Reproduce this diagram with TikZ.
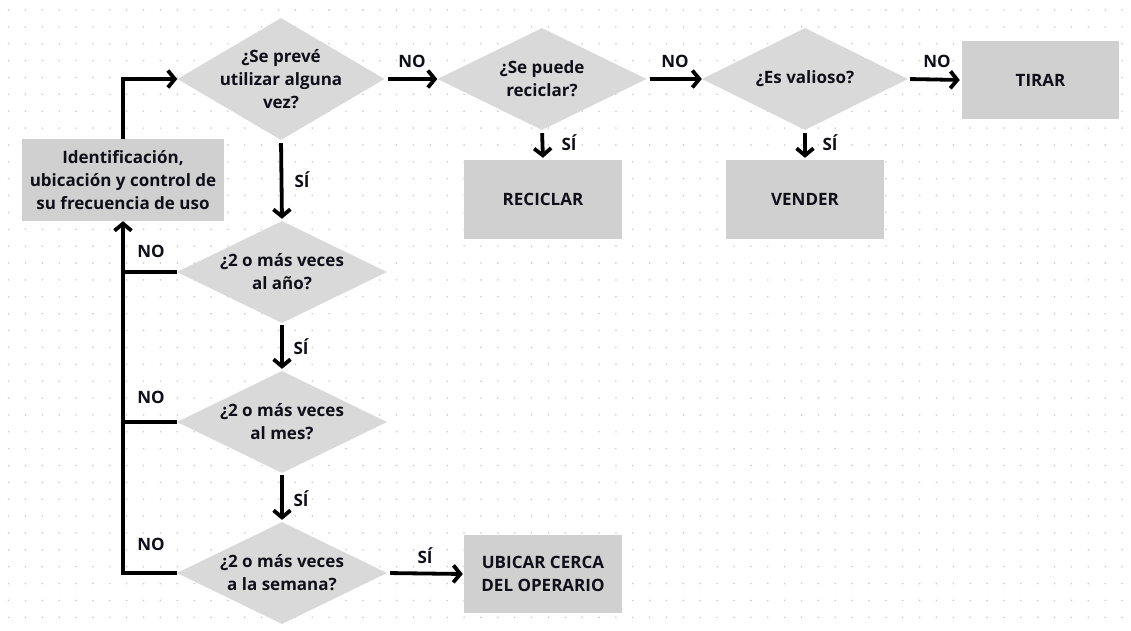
\documentclass[tikz,border=0pt]{standalone}
\usepackage{fontspec}
\setmainfont{Open Sans}
\usetikzlibrary{shapes.geometric,arrows.meta}
\definecolor{ink}{RGB}{15,15,25}
\definecolor{dotgrey}{RGB}{200,204,216}
\definecolor{diafill}{RGB}{217,217,217}
\definecolor{boxfill}{RGB}{208,208,208}
\begin{document}
\begin{tikzpicture}[x=1pt,y=-1pt,
  txt/.style={font=\fontsize{17}{23}\selectfont\bfseries, text=ink, align=center, inner sep=0pt},
  decision/.style={diamond, fill=diafill, draw=none, inner sep=0pt, minimum width=#1, minimum height=102pt},
  action/.style={rectangle, fill=boxfill, draw=none, inner sep=0pt, minimum width=158pt, minimum height=79pt,
                 font=\fontsize{17}{23}\selectfont\bfseries, text=ink, align=center},
  wire/.style={line width=3.8pt, draw=black},
  flow/.style={wire, -{Straight Barb[length=7pt,width=17pt]}},
  answer/.style={font=\fontsize{17}{23}\selectfont\bfseries, text=ink, inner sep=0pt}
]
% canvas and dotted grid
\fill[white] (0,0) rectangle (1131,630);
\useasboundingbox (0,0) rectangle (1131,630);
\foreach \i in {0,...,66}
  \foreach \j in {0,...,36}
    \fill[dotgrey] (8.6+\i*16.87, 10+\j*16.87) circle (0.9);

% decisions
\node[decision=207pt, minimum height=122pt] (d1) at (281,79) {};
\node[txt] (t1) at (d1.center) {¿Se prevé\\utilizar alguna\\vez?};
\node[decision=209pt] (d2) at (542,79) {};
\node[txt] (t2) at (d2.center) {¿Se puede\\reciclar?};
\node[decision=206pt] (d3) at (805,79) {};
\node[txt] (t3) at (d3.center) {¿Es valioso?};
\node[decision=210pt] (d4) at (282,272) {};
\node[txt] (t4) at (d4.center) {¿2 o más veces\\al año?};
\node[decision=210pt] (d5) at (282,422) {};
\node[txt] (t5) at (d5.center) {¿2 o más veces\\al mes?};
\node[decision=210pt] (d6) at (282,573) {};
\node[txt] (t6) at (d6.center) {¿2 o más veces\\a la semana?};

% actions
\node[action, minimum width=202pt, minimum height=82pt] (ident) at (123,180)
  {Identificación,\\ubicación y control de\\su frecuencia de uso};
\node[action, minimum width=157pt, minimum height=78pt] (tirar) at (1040.5,80) {TIRAR};
\node[action] (recic) at (543,199.5) {RECICLAR};
\node[action] (vender) at (805,199.5) {VENDER};
\node[action, minimum height=78pt] (ubicar) at (543,574) {UBICAR CERCA\\DEL OPERARIO};

% main flow
\draw[flow] (ident.north) |- (d1.west);
\draw[flow, shorten <=3pt] (d1.east) -- (d2.west);
\draw[flow, shorten <=3pt] (d2.east) -- (d3.west);
\draw[flow, shorten <=2pt, shorten >=2pt] (d3.east) -- (tirar.west);
\draw[flow, shorten <=3pt, shorten >=2pt] (d2.south) -- (recic.north);
\draw[flow, shorten <=3pt, shorten >=2pt] (d3.south) -- (vender.north);
\draw[flow, shorten <=3pt, shorten >=2pt] (d1.south) -- (d4.north);
\draw[flow, shorten <=2pt, shorten >=2pt] (d4.south) -- (d5.north);
\draw[flow, shorten <=2pt, shorten >=2pt] (d5.south) -- (d6.north);
\draw[flow, shorten <=3pt, shorten >=1pt] (d6.east) -- (ubicar.west);

% return branch
\draw[flow] (d6.west) -| (ident.south);
\draw[wire] (d4.west) -- (d4.west -| ident.south);
\draw[wire] (d5.west) -- (d5.west -| ident.south);

% answer labels
\node[answer] (n1) at (412,61) {NO};
\node[answer] (n2) at (675,61) {NO};
\node[answer] (n3) at (937,61) {NO};
\node[answer] (s1) at (302,180) {SÍ};
\node[answer] (s2) at (569,143) {SÍ};
\node[answer] (s3) at (830,143) {SÍ};
\node[answer] (s4) at (301,347) {SÍ};
\node[answer] (s5) at (301,499) {SÍ};
\node[answer] (s6) at (425,556) {SÍ};
\node[answer] (n4) at (151,251) {NO};
\node[answer] (n5) at (151,397) {NO};
\node[answer] (n6) at (151,544) {NO};
\end{tikzpicture}
\end{document}
